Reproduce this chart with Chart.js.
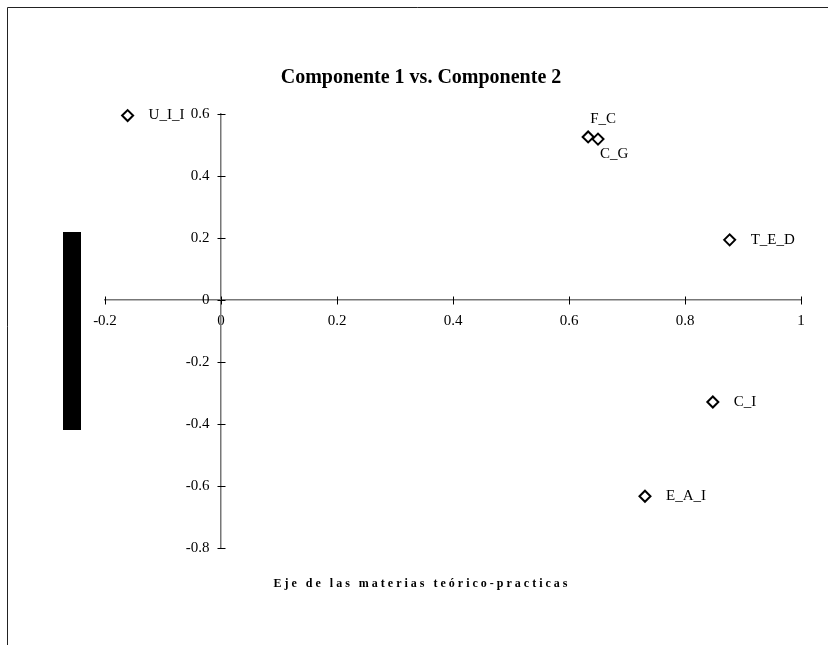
<!DOCTYPE html>
<html>
<head>
<meta charset="utf-8">
<script src="https://cdn.jsdelivr.net/npm/chart.js@4.4.4/dist/chart.umd.min.js"></script>
<style>
  html, body { margin: 0; padding: 0; background: #fff; }
  #wrap { width: 828px; height: 645px; position: relative; }
</style>
</head>
<body>
<div id="wrap"><canvas id="chart"></canvas></div>
<script>
// data
const pointNames = ["U_I_I", "F_C", "C_G", "T_E_D", "C_I", "E_A_I"];
const comp1 = [-0.161, 0.633, 0.650, 0.877, 0.848, 0.731];
const comp2 = [0.595, 0.526, 0.519, 0.194, -0.329, -0.633];
const xTicks = [-0.2, 0, 0.2, 0.4, 0.6, 0.8, 1];
const yTicks = [-0.8, -0.6, -0.4, -0.2, 0, 0.2, 0.4, 0.6];
const chartTitle = "Componente 1 vs. Componente 2";
const xTitle = "Eje de las materias teórico-practicas";

// where the name sits relative to its marker (default: right)
const labelSide = {F_C: "above", C_G: "below"};

const serif = '"Liberation Serif", "Times New Roman", serif';
Chart.defaults.font.family = serif;
Chart.defaults.color = "#000";

const points = pointNames.map((n, i) => ({x: comp1[i], y: comp2[i]}));

// frame, black y-title block, titles (the excel titles are centred on the whole sheet, not the plot)
const decorPlugin = {
    id: "decor",
    beforeDraw(chart) {
        const ctx = chart.ctx;
        ctx.save();
        ctx.fillStyle = "#fff";
        ctx.fillRect(0, 0, chart.width, chart.height);
        ctx.strokeStyle = "#222";
        ctx.lineWidth = 1;
        ctx.beginPath();
        ctx.moveTo(7.5, chart.height);
        ctx.lineTo(7.5, 7.5);
        ctx.lineTo(chart.width, 7.5);
        ctx.stroke();
        ctx.fillStyle = "#000";
        ctx.fillRect(63, 232, 18, 198);
        ctx.restore();
    },
    afterDraw(chart) {
        const ctx = chart.ctx;
        const area = chart.chartArea;
        ctx.save();
        ctx.fillStyle = "#000";
        ctx.textAlign = "center";
        ctx.textBaseline = "middle";
        ctx.font = "bold 20px " + serif;
        ctx.fillText(chartTitle, 421, area.top - 36);
        ctx.font = "bold 12px " + serif;
        ctx.letterSpacing = "3px";
        ctx.fillText(xTitle, 422, area.bottom + 36);
        ctx.restore();
    }
};

// crossing tick marks (excel style) + y labels, which chart.js puts on the axis line
// when the axis is positioned at a value
const crossTicks = {
    id: "crossTicks",
    afterDraw(chart) {
        const ctx = chart.ctx;
        const xs = chart.scales.x, ys = chart.scales.y;
        const x0 = Math.round(xs.getPixelForValue(0)) + 0.5;
        const y0 = Math.round(ys.getPixelForValue(0)) + 0.5;
        ctx.save();
        ctx.strokeStyle = "#000";
        ctx.lineWidth = 1;
        ctx.beginPath();
        xs.ticks.forEach(t => {
            const px = Math.round(xs.getPixelForValue(t.value)) + 0.5;
            ctx.moveTo(px, y0 - 4);
            ctx.lineTo(px, y0 + 4);
        });
        ys.ticks.forEach(t => {
            const py = Math.round(ys.getPixelForValue(t.value)) + 0.5;
            ctx.moveTo(x0 - 4, py);
            ctx.lineTo(x0 + 4, py);
        });
        ctx.stroke();
        ctx.font = "15px " + serif;
        ctx.fillStyle = "#000";
        ctx.textAlign = "right";
        ctx.textBaseline = "middle";
        ys.ticks.forEach(t => {
            ctx.fillText(String(t.value), x0 - 12, ys.getPixelForValue(t.value));
        });
        ctx.restore();
    }
};

const pointLabels = {
    id: "pointLabels",
    afterDatasetsDraw(chart) {
        const ctx = chart.ctx;
        const meta = chart.getDatasetMeta(0);
        ctx.save();
        ctx.font = "15px " + serif;
        ctx.fillStyle = "#000";
        ctx.textAlign = "left";
        ctx.textBaseline = "middle";
        meta.data.forEach((el, i) => {
            const name = pointNames[i];
            const side = labelSide[name] || "right";
            let x = el.x + 21, y = el.y;
            if (side === "above") { x = el.x + 2; y = el.y - 18; }
            if (side === "below") { x = el.x + 2; y = el.y + 15; }
            ctx.fillText(name, x, y);
        });
        ctx.restore();
    }
};

const tickFont = {size: 15};

new Chart(document.getElementById("chart"), {
    type: "scatter",
    data: {
        datasets: [{
            label: chartTitle,
            data: points,
            clip: false,
            pointStyle: "rectRot",
            pointRadius: 5.5,
            pointHoverRadius: 5.5,
            borderWidth: 2,
            borderColor: "#000",
            backgroundColor: "#fff"
        }]
    },
    options: {
        responsive: true,
        maintainAspectRatio: false,
        animation: false,
        events: [],
        layout: {padding: {left: 105, right: 27, top: 114, bottom: 97}},
        plugins: {
            legend: {display: false},
            tooltip: {enabled: false},
            title: {display: false}
        },
        scales: {
            x: {
                type: "linear",
                position: {y: 0},
                min: -0.2,
                max: 1,
                grid: {display: true, drawOnChartArea: false, drawTicks: true, tickLength: 4, tickColor: "transparent"},
                border: {display: true, color: "#777", width: 1.5},
                ticks: {font: tickFont, color: "#000", padding: 8, maxRotation: 0, autoSkip: false,
                        callback: v => String(v)},
                afterBuildTicks: s => { s.ticks = xTicks.map(v => ({value: v})); },
                afterFit: s => { s.height = 0; }
            },
            y: {
                type: "linear",
                position: {x: 0},
                min: -0.8,
                max: 0.6,
                grid: {display: true, drawOnChartArea: false, drawTicks: false},
                border: {display: true, color: "#777", width: 1.5},
                ticks: {display: false},
                afterBuildTicks: s => { s.ticks = yTicks.map(v => ({value: v})); },
                afterFit: s => { s.width = 0; }
            }
        }
    },
    plugins: [decorPlugin, crossTicks, pointLabels]
});
</script>
</body>
</html>
